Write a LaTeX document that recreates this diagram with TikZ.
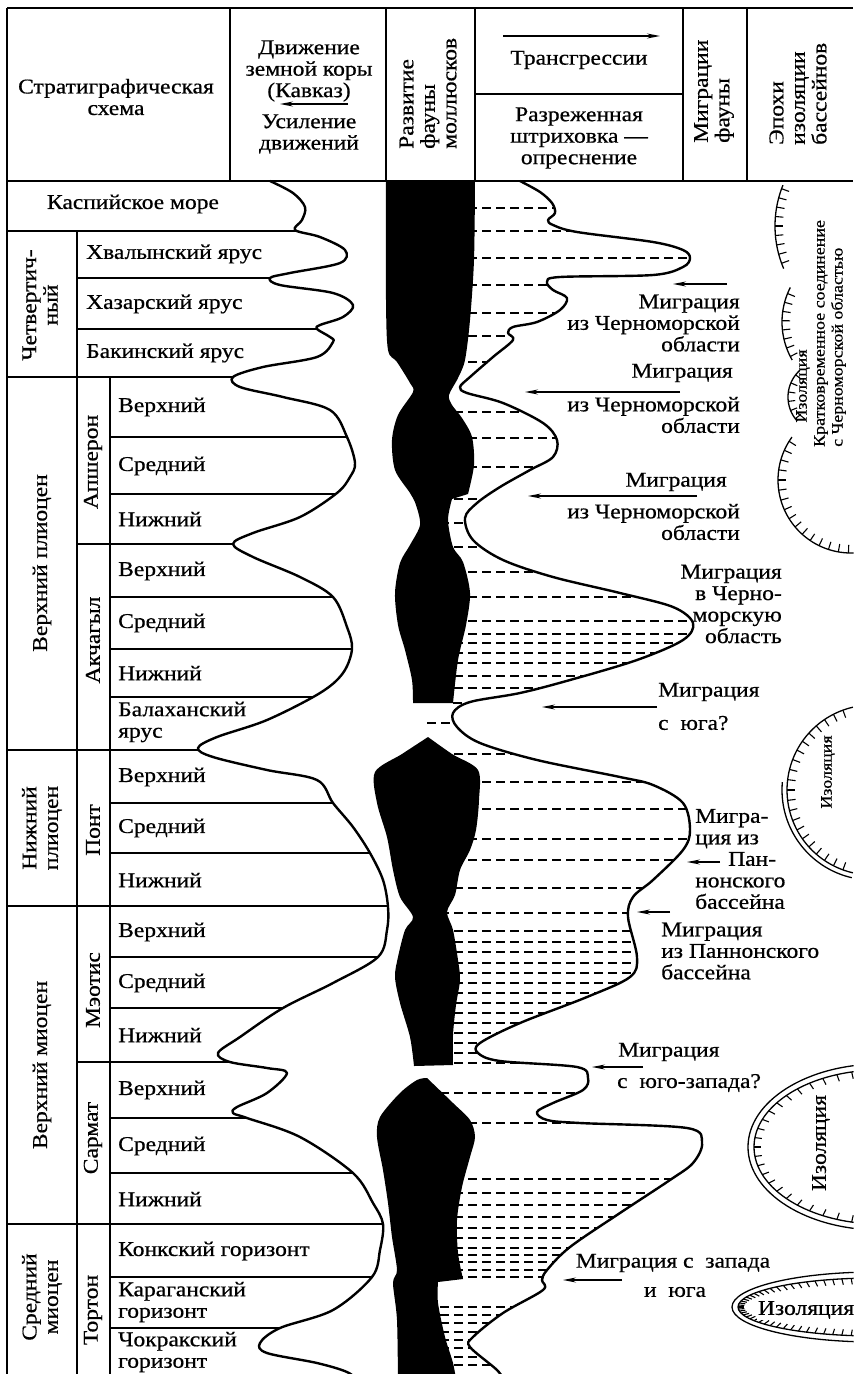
\documentclass[tikz,border=0pt]{standalone}
\usepackage{fontspec}
\setmainfont{Liberation Serif}[FakeStretch=1.12, FakeBold=0.6]
\usetikzlibrary{arrows.meta}

% crust movement curve and transgression curve (x, y in pt, y down)
\newcommand\crustline{plot[smooth, tension=0.55] coordinates {(270,181) (293,193) (305,207) (302,220) (295,230) (320,237) (345,250) (340,263) (290,273) (270,278) (280,285) (333,293) (353,305) (343,317) (320,325) (317,329) (330,337) (333,342) (317,357) (263,367) (233,377) (240,387) (283,397) (330,410) (347,437) (355,463) (350,477) (337,493) (300,517) (253,533) (233,544) (253,557) (300,577) (333,597) (347,627) (352,649) (343,673) (320,693) (267,720) (217,737) (198,748) (213,757) (267,770) (317,780) (333,803) (353,827) (370,853) (383,880) (388,907) (387,930) (378,957) (333,983) (283,1008) (240,1037) (218,1053) (230,1062) (267,1068) (287,1073) (267,1093) (237,1107) (233,1113) (247,1118) (300,1137) (353,1173) (373,1203) (383,1224) (380,1250) (372,1277) (333,1310) (280,1328) (260,1343) (267,1353) (317,1363) (347,1372) (360,1382)}}
\newcommand\transline{plot[smooth, tension=0.55] coordinates {(520,181) (540,192) (552,203) (555,213) (548,220) (553,225) (577,232) (653,242) (683,250) (690,258) (683,267) (653,275) (560,277) (547,282) (553,290) (567,298) (560,310) (537,322) (513,327) (508,333) (513,340) (493,357) (470,377) (460,387) (467,393) (503,403) (543,423) (557,440) (553,457) (530,470) (500,487) (477,503) (465,518) (473,540) (503,560) (553,577) (620,593) (673,607) (693,623) (683,640) (637,660) (570,680) (520,693) (470,702) (453,713) (457,727) (480,743) (537,760) (620,777) (653,785) (683,803) (690,830) (683,850) (653,880) (633,897) (628,917) (637,957) (630,977) (587,997) (520,1023) (480,1043) (478,1053) (500,1061) (577,1067) (588,1078) (583,1090) (553,1103) (537,1112) (547,1120) (580,1123) (687,1128) (702,1143) (693,1163) (670,1180) (620,1213) (570,1247) (547,1270) (542,1280) (543,1290) (503,1313) (473,1337) (470,1347) (497,1370) (505,1382)}}

\begin{document}
\begin{tikzpicture}[
  x=1pt, y=-1pt,
  font=\fontsize{21}{21.5}\selectfont,
  rule/.style={line width=1.2pt},
  crust/.style={line width=2.4pt, line join=round},
  hatch/.style={line width=1.1pt, dash pattern=on 9pt off 5pt},
  migarrow/.style={-{Stealth[length=13pt, width=5pt]}, line width=1.2pt},
  cell/.style={inner sep=0pt, anchor=west, align=left},
  mid/.style={inner sep=0pt, align=center},
  east/.style={inner sep=0pt, anchor=east, align=right},
  vert/.style={inner sep=0pt, rotate=90, align=center},
  vertbase/.style={inner sep=0pt, rotate=90, anchor=west, align=left},
  small/.style={font=\fontsize{16}{18}\selectfont},
  isol/.style={line width=1.3pt},
  isotick/.style={line width=1.1pt}
]
\useasboundingbox (0,0) rectangle (855,1374);
\clip (0,0) rectangle (853.5,1374);

% header
\draw[rule] (7,8) -- (853,8);
\draw[rule] (7,181) -- (853,181);
\draw[rule] (7,8) -- (7,1374);
\foreach \x in {230,386,475,683,747}
  \draw[rule] (\x,8) -- (\x,181);
\draw[rule] (475,94) -- (683,94);

\node[mid] (strat) at (116,97) {Стратиграфическая\\схема};
\node[mid] (crusthead) at (309,71) {Движение\\земной коры\\(Кавказ)};
\draw[migarrow] (348,104) -- (280,104);
\node[mid] (uplift) at (309,134) {Усиление\\движений};
\node[vertbase] (faunahead) at (428,149) {Развитие\\фауны\\моллюсков};
\draw[migarrow] (503,36) -- (660,36);
\node[mid] (transhead) at (579,60) {Трансгрессии};
\node[mid] (fresh) at (579,138) {Разреженная\\штриховка —\\опреснение};
\node[vertbase] (mighead) at (714,143) {Миграции\\фауны};
\node[vertbase] (isohead) at (798,145) {Эпохи\\изоляции\\бассейнов};

% stratigraphic column
\draw[rule] (77,231) -- (77,1374);
\draw[rule] (110,377) -- (110,1374);
\begin{scope}
  \clip \crustline -- (0,1382) -- (0,181) -- cycle;
  \foreach \y/\xa in {231/7, 278/77, 329/77, 377/7, 437/110, 494/110,
      544/77, 597/110, 649/110, 697/110, 750/7, 803/110, 853/110, 906/7,
      957/110, 1008/110, 1062/77, 1118/110, 1173/110, 1224/7, 1277/110,
      1328/110}
    \draw[rule] (\xa,\y) -- (400,\y);
\end{scope}
\draw[crust] \crustline;

\node[mid] (caspian) at (133,204) {Каспийское море};
\node[vert] (quat) at (40,305) {Четвертич-\\ный};
\node[cell] (khval) at (86,254) {Хвалынский ярус};
\node[cell] (khaz) at (86,304) {Хазарский ярус};
\node[cell] (baku) at (86,353) {Бакинский ярус};
\node[vert] (uplio) at (42,563) {Верхний плиоцен};
\node[vert] (apsh) at (93,462) {Апшерон};
\node[cell] (apsh3) at (118,407) {Верхний};
\node[cell] (apsh2) at (118,466) {Средний};
\node[cell] (apsh1) at (118,519) {Нижний};
\node[vert] (akch) at (93,640) {Акчагыл};
\node[cell] (akch3) at (118,571) {Верхний};
\node[cell] (akch2) at (118,623) {Средний};
\node[cell] (akch1) at (118,673) {Нижний};
\node[cell] (balakh) at (118,722) {Балаханский\\ярус};
\node[vert] (lplio) at (42,828) {Нижний\\плиоцен};
\node[vert] (pont) at (93,830) {Понт};
\node[cell] (pont3) at (118,777) {Верхний};
\node[cell] (pont2) at (118,828) {Средний};
\node[cell] (pont1) at (118,880) {Нижний};
\node[vert] (umio) at (42,1065) {Верхний миоцен};
\node[vert] (meot) at (93,990) {Мэотис};
\node[cell] (meot3) at (118,932) {Верхний};
\node[cell] (meot2) at (118,983) {Средний};
\node[cell] (meot1) at (118,1035) {Нижний};
\node[vert] (sarm) at (93,1138) {Сармат};
\node[cell] (sarm3) at (118,1090) {Верхний};
\node[cell] (sarm2) at (118,1146) {Средний};
\node[cell] (sarm1) at (118,1199) {Нижний};
\node[vert] (mmio) at (42,1297) {Средний\\миоцен};
\node[vert] (tort) at (93,1310) {Тортон};
\node[cell] (konk) at (118,1251) {Конкский горизонт};
\node[cell] (karag) at (118,1302) {Караганский\\горизонт};
\node[cell] (chokr) at (118,1352) {Чокракский\\горизонт};

% hatching up to the transgression curve
\begin{scope}
  \clip \transline -- (380,1382) -- (380,181) -- cycle;
  \foreach \y in {208,231,258,285,313,336,362,412,438,467,499,523,547,572,
      597,621,634,643,653,663,676,688,754,782,809,839,860,888,913,931,942,
      952,963,973,983,993,1003,1013,1023,1033,1043,1053,1063,1093,1123,1179,
      1193,1205,1217,1228,1238,1248,1255,1262,1270,1277,1307,1315,1323,1332,
      1340,1348,1357,1365}
    \draw[hatch] (440,\y) -- (720,\y);
  \draw[hatch] (453,703) -- (720,703);
  \draw[hatch] (427,723) -- (720,723);
\end{scope}
\draw[crust] \transline;

% mollusc fauna
\fill (386,181) -- (475,181)
  -- plot[smooth] coordinates {(475,181) (474,260) (470,320) (465,360) (458,378) (449,395) (452,405) (462,418) (472,437) (474,465) (468,494)}
  -- plot[smooth] coordinates {(452,499) (448,520) (453,547) (463,562) (470,593) (466,625) (458,660) (453,703)}
  -- plot[smooth] coordinates {(413,703) (412,680) (405,650) (398,625) (395,593) (400,563) (410,545) (420,525) (416,505) (410,493) (395,470) (392,440) (398,415) (413,392) (410,383) (397,362) (388,350) (386,300) (386,181)}
  -- cycle;
\fill (428,737)
  -- plot[smooth] coordinates {(428,737) (452,754) (478,770) (479,800) (476,830) (470,850) (460,870) (455,895) (447,912) (453,930) (458,960) (460,980) (456,1005) (453,1035) (453,1065)}
  -- plot[smooth] coordinates {(414,1066) (410,1037) (400,1003) (395,977) (398,957) (405,930) (413,917) (400,897) (393,870) (387,837) (377,803) (375,772) (402,754) (428,737)}
  -- cycle;
\fill (427,1078)
  -- plot[smooth] coordinates {(427,1078) (453,1103) (470,1120) (475,1137) (470,1157) (462,1187) (457,1220) (458,1253) (463,1279)}
  -- plot[smooth] coordinates {(438,1282) (438,1303) (445,1337) (453,1363) (457,1385)}
  -- plot[smooth] coordinates {(398,1385) (397,1320) (393,1283) (397,1270) (392,1237) (388,1203) (383,1170) (377,1137) (380,1117) (400,1093) (417,1080) (427,1078)}
  -- cycle;

% migrations
\node[east] (mig1) at (740,323) {Миграция\\из Черноморской\\области};
\draw[migarrow] (727,284) -- (673,284);
\node[east] (mig2a) at (733,373) {Миграция};
\draw[migarrow] (680,392) -- (525,392);
\node[east] (mig2b) at (740,415) {из Черноморской\\области};
\node[east] (mig3a) at (727,482) {Миграция};
\draw[migarrow] (697,496) -- (528,496);
\node[east] (mig3b) at (740,522) {из Черноморской\\области};
\node[east] (mig4) at (782,604) {Миграция\\в Черно-\\морскую\\область};
\node[cell] (mig5a) at (658,692) {Миграция};
\draw[migarrow] (657,707) -- (542,707);
\node[cell] (mig5b) at (658,723) {с\ \ юга?};
\node[cell] (mig6) at (695,859) {Мигра-\\ция из\\\hspace*{33pt}Пан-\\нонского\\бассейна};
\draw[migarrow] (720,862) -- (687,862);
\draw[migarrow] (670,912) -- (637,912);
\node[cell] (mig7) at (661,951) {Миграция\\из Паннонского\\бассейна};
\node[cell] (mig8a) at (618,1052) {Миграция};
\draw[migarrow] (643,1067) -- (592,1067);
\node[cell] (mig8b) at (617,1083) {с\ \ юго-запада?};
\node[mid] (mig9a) at (673,1263) {Миграция с\ \ запада};
\draw[migarrow] (622,1280) -- (563,1280);
\node[mid] (mig9b) at (675,1292) {и\ \ юга};

% isolation epochs
\draw[isol] plot[domain=157:202, samples=30] ({884+109*cos(\x)},{226+109*sin(\x)});
\foreach \a in {160,165,...,200}
  \draw[isotick] ({884+109*cos(\a)},{226+109*sin(\a)}) -- ({884+101*cos(\a)},{226+101*sin(\a)});
\draw[isol] plot[domain=150:207, samples=30] ({858+76*cos(\x)},{322+76*sin(\x)});
\foreach \a in {153,160,...,205}
  \draw[isotick] ({858+76*cos(\a)},{322+76*sin(\a)}) -- ({858+68*cos(\a)},{322+68*sin(\a)});
\draw[isol] plot[domain=138:228, samples=30] ({824+36*cos(\x)},{397+36*sin(\x)});
\foreach \a in {143,158,...,225}
  \draw[isotick] ({824+36*cos(\a)},{397+36*sin(\a)}) -- ({824+29*cos(\a)},{397+29*sin(\a)});
\draw[isol] plot[domain=88:216, samples=50] ({851+73*cos(\x)},{480+73*sin(\x)});
\foreach \a in {92,100,...,212}
  \draw[isotick] ({851+73*cos(\a)},{480+73*sin(\a)}) -- ({851+65*cos(\a)},{480+65*sin(\a)});
\node[vert, small] (iso1) at (803,386) {Изоляция};
\node[vertbase, small] (shortlink) at (830,447) {Кратковременное соединение\\с Черноморской областью};

\draw[isol] plot[domain=103:257, samples=50] ({872+85*cos(\x)},{790+85*sin(\x)});
\draw[isol] plot[domain=103:185, samples=40] ({872+90*cos(\x)},{790+90*sin(\x)});
\foreach \a in {110,117,...,255}
  \draw[isotick] ({872+85*cos(\a)},{790+85*sin(\a)}) -- ({872+77*cos(\a)},{790+77*sin(\a)});
\node[vert, small] (iso2) at (828,772) {Изоляция};

\draw[isol] (880,1147) ellipse [x radius=132, y radius=83];
\draw[isol] (880,1147) ellipse [x radius=126, y radius=77];
\foreach \a in {96,103,...,264}
  \draw[isotick] ({880+126*cos(\a)},{1147+77*sin(\a)}) -- ({880+119*cos(\a)},{1147+70*sin(\a)});
\node[vert] (iso3) at (821,1143) {Изоляция};

\draw[isol] (875,1307) ellipse [x radius=143, y radius=35];
\draw[isol] (875,1307) ellipse [x radius=137, y radius=29];
\foreach \a in {92,96,...,268}
  \draw[isotick] ({875+137*cos(\a)},{1307+29*sin(\a)}) -- ({875+131*cos(\a)},{1307+23*sin(\a)});
\node[mid, fill=white, inner sep=1pt] (iso4) at (806,1310) {Изоляция};
\end{tikzpicture}
\end{document}
